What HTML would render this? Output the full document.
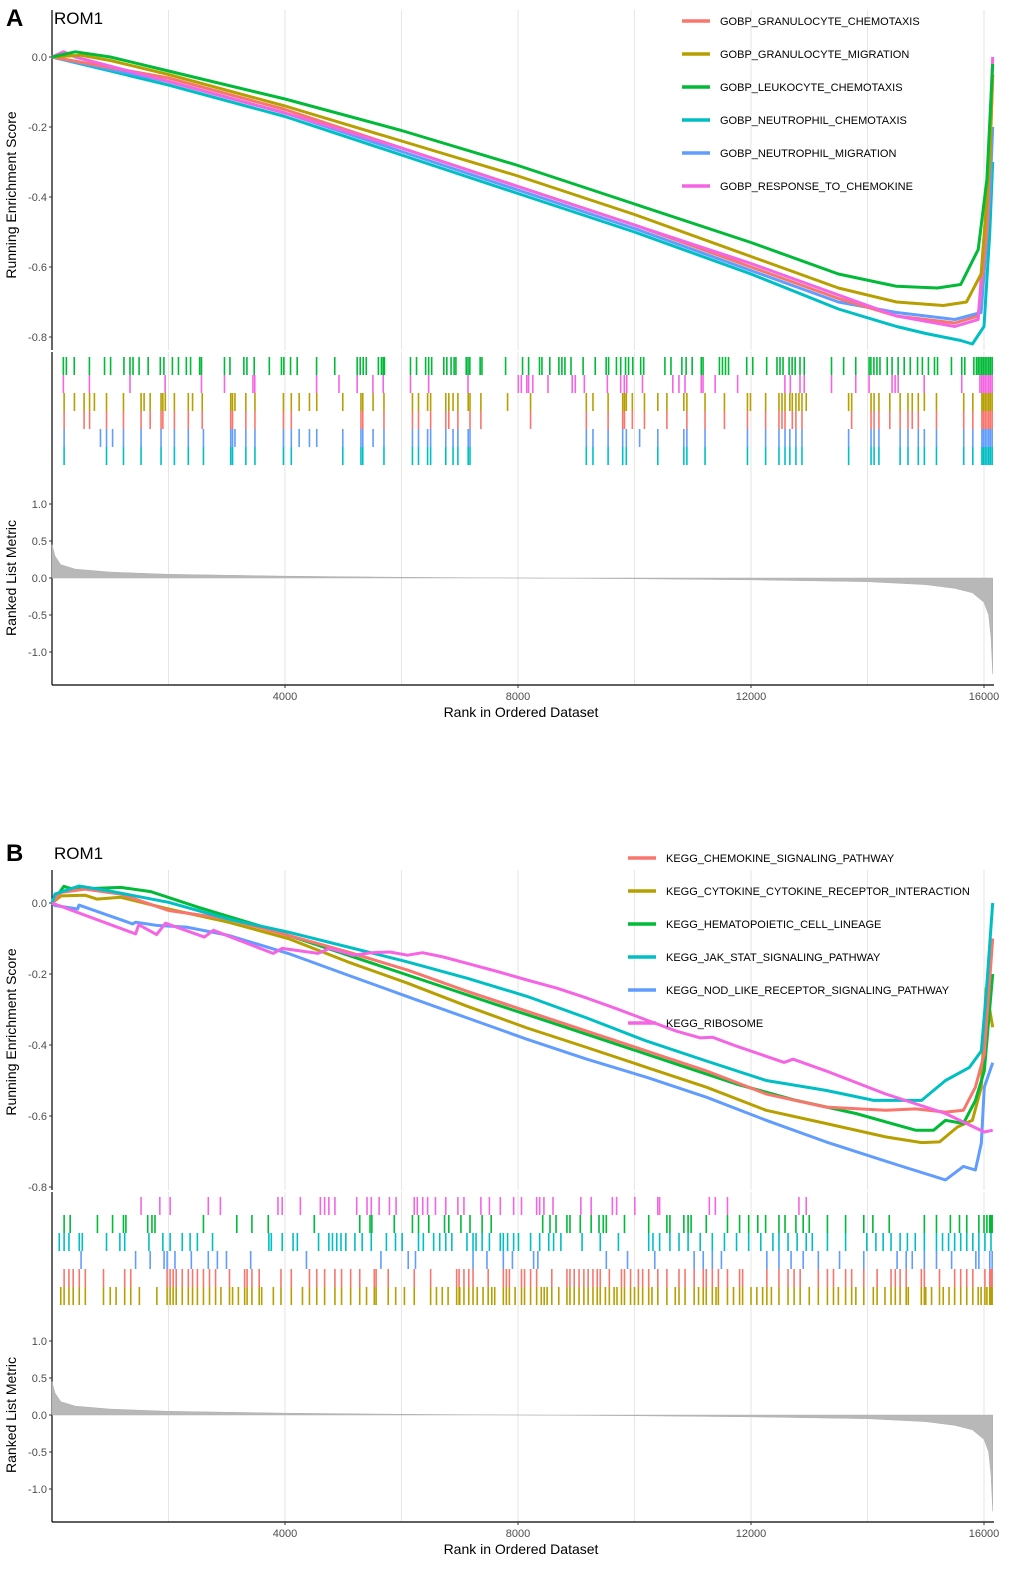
<!DOCTYPE html>
<html><head><meta charset="utf-8">
<style>
body{margin:0;background:#fff;}
svg{display:block;font-family:"Liberation Sans",Arial,sans-serif;}
</style></head>
<body>
<svg id="chart" width="1020" height="1592" xmlns="http://www.w3.org/2000/svg"></svg>
<script>
// ---------- DATA ----------
const rankTicks = [4000, 8000, 12000, 16000];
const gridRanks = [2000, 4000, 6000, 8000, 10000, 12000, 14000, 16000];
const esTicks = [0.0, -0.2, -0.4, -0.6, -0.8];
const metricTicks = [1.0, 0.5, 0.0, -0.5, -1.0];

const namesA = ["GOBP_GRANULOCYTE_CHEMOTAXIS","GOBP_GRANULOCYTE_MIGRATION","GOBP_LEUKOCYTE_CHEMOTAXIS","GOBP_NEUTROPHIL_CHEMOTAXIS","GOBP_NEUTROPHIL_MIGRATION","GOBP_RESPONSE_TO_CHEMOKINE"];
const namesB = ["KEGG_CHEMOKINE_SIGNALING_PATHWAY","KEGG_CYTOKINE_CYTOKINE_RECEPTOR_INTERACTION","KEGG_HEMATOPOIETIC_CELL_LINEAGE","KEGG_JAK_STAT_SIGNALING_PATHWAY","KEGG_NOD_LIKE_RECEPTOR_SIGNALING_PATHWAY","KEGG_RIBOSOME"];
const colors = ["#F8766D","#B79F00","#00BA38","#00BFC4","#619CFF","#F564E3"];

// Running ES curves panel A: [rank, ES]
const esA_red = [[0,0],[2000,-0.06],[4000,-0.15],[6000,-0.26],[8000,-0.37],[10000,-0.48],[12000,-0.6],[13500,-0.69],[14500,-0.74],[15500,-0.76],[15900,-0.74],[16050,-0.5],[16150,-0.05]];
const esA_olive = [[0,0],[500,0.005],[1000,-0.01],[2000,-0.05],[4000,-0.14],[6000,-0.24],[8000,-0.34],[10000,-0.45],[12000,-0.57],[13500,-0.66],[14500,-0.7],[15300,-0.71],[15700,-0.7],[15950,-0.62],[16100,-0.3],[16150,-0.05]];
const esA_green = [[0,0],[400,0.015],[1000,0.0],[2000,-0.04],[4000,-0.12],[6000,-0.21],[8000,-0.31],[10000,-0.42],[12000,-0.53],[13500,-0.62],[14500,-0.655],[15200,-0.66],[15600,-0.65],[15900,-0.55],[16050,-0.35],[16150,-0.02]];
const esA_cyan = [[0,0],[2000,-0.08],[4000,-0.17],[6000,-0.28],[8000,-0.39],[10000,-0.5],[12000,-0.62],[13500,-0.72],[14500,-0.77],[15000,-0.79],[15600,-0.81],[15800,-0.82],[16000,-0.77],[16100,-0.5],[16150,-0.3]];
const esA_blue = [[0,0],[2000,-0.07],[4000,-0.16],[6000,-0.27],[8000,-0.38],[10000,-0.49],[12000,-0.61],[13500,-0.7],[14500,-0.73],[15000,-0.74],[15500,-0.75],[15950,-0.73],[16100,-0.4],[16150,-0.2]];
const esA_pink = [[0,0],[200,0.015],[400,0.0],[2000,-0.07],[4000,-0.16],[6000,-0.26],[8000,-0.37],[10000,-0.48],[12000,-0.59],[13500,-0.68],[14500,-0.74],[15500,-0.77],[15900,-0.75],[16050,-0.4],[16150,0.0]];

// Running ES curves panel B
const esB_red = [[0,0],[154,0.03],[564,0.039],[1180,0.025],[2000,-0.021],[3027,-0.045],[4053,-0.091],[5079,-0.138],[6105,-0.189],[7131,-0.249],[8157,-0.305],[9183,-0.361],[10209,-0.417],[11235,-0.473],[12261,-0.538],[13287,-0.575],[14313,-0.584],[14826,-0.58],[15339,-0.589],[15647,-0.584],[15852,-0.519],[16006,-0.426],[16150,-0.1]];
const esB_olive = [[0,0],[154,0.02],[564,0.022],[770,0.011],[1180,0.016],[2000,-0.017],[3027,-0.054],[4053,-0.1],[5079,-0.166],[6105,-0.226],[7131,-0.291],[8157,-0.352],[9183,-0.407],[10209,-0.463],[11235,-0.519],[12261,-0.584],[13287,-0.621],[14313,-0.659],[14929,-0.675],[15237,-0.673],[15544,-0.631],[15800,-0.612],[15954,-0.519],[16036,-0.24],[16150,-0.35]];
const esB_green = [[0,0],[205,0.047],[359,0.039],[1180,0.044],[1693,0.032],[2514,-0.012],[3540,-0.063],[4566,-0.119],[5592,-0.175],[6618,-0.231],[7644,-0.287],[8670,-0.342],[9696,-0.398],[10722,-0.454],[11748,-0.51],[12774,-0.556],[13800,-0.593],[14826,-0.64],[15134,-0.64],[15339,-0.612],[15647,-0.621],[15852,-0.556],[16006,-0.473],[16150,-0.2]];
const esB_cyan = [[0,0],[51,0.025],[462,0.048],[975,0.034],[2000,0.002],[3027,-0.045],[4053,-0.082],[5079,-0.124],[6105,-0.166],[7131,-0.212],[8157,-0.263],[9183,-0.324],[10209,-0.389],[11235,-0.445],[12261,-0.5],[13287,-0.528],[14108,-0.556],[14929,-0.556],[15339,-0.5],[15749,-0.463],[15954,-0.417],[16036,-0.259],[16150,0.0]];
const esB_blue = [[0,0],[51,-0.007],[441,-0.017],[462,-0.006],[1385,-0.059],[1436,-0.054],[1796,-0.063],[2309,-0.068],[3027,-0.091],[4053,-0.142],[5079,-0.203],[6105,-0.264],[7131,-0.324],[8157,-0.384],[9183,-0.44],[10209,-0.491],[11235,-0.547],[12261,-0.612],[13287,-0.673],[14518,-0.738],[15339,-0.78],[15647,-0.742],[15852,-0.752],[15954,-0.677],[16006,-0.519],[16150,-0.45]];
const esB_pink = [[0,0],[1436,-0.087],[1488,-0.061],[1796,-0.089],[1949,-0.057],[2616,-0.096],[2770,-0.077],[3796,-0.142],[3950,-0.128],[4566,-0.142],[4771,-0.128],[5181,-0.147],[5489,-0.14],[5797,-0.138],[6105,-0.147],[6361,-0.14],[6720,-0.152],[7131,-0.17],[7644,-0.193],[8157,-0.217],[8670,-0.24],[9183,-0.268],[9696,-0.298],[10209,-0.33],[10722,-0.361],[11132,-0.38],[11337,-0.378],[11748,-0.403],[12569,-0.449],[12722,-0.44],[13287,-0.473],[14313,-0.538],[15339,-0.593],[16006,-0.645],[16150,-0.64]];

// Gene-set hit ranks (rug)
const hitsA_green = [195,247,382,642,902,1006,1235,1339,1391,1495,1651,1859,1921,2067,2171,2306,2379,2535,2566,2961,3055,3294,3346,3471,3731,3939,3980,4095,4209,4542,4854,5239,5291,5343,5395,5603,5655,5686,5707,6154,6258,6414,6466,6518,6726,6778,6851,6903,6934,7111,7142,7173,7350,7381,7787,8078,8182,8369,8411,8546,8702,8754,8806,8910,9118,9326,9513,9555,9690,9763,9846,9898,9971,10106,10158,10522,10626,10813,10886,10990,11146,11177,11458,11510,11562,11614,11926,12030,12269,12446,12498,12550,12654,12706,12758,12841,12914,13382,13590,13798,14027,14058,14110,14162,14214,14339,14422,14526,14630,14734,14859,14942,15046,15150,15202,15441,15618,15670,15826,15870,15900,15930,15960,15990,16020,16050,16080,16110,16140];
const hitsA_pink = [195,642,1339,1942,2566,2961,3450,3481,4542,4927,5239,5509,5686,6154,6466,7142,8005,8057,8151,8182,8254,8515,8931,8983,9139,9534,9763,9825,9867,10137,10658,10763,10867,11146,11177,11385,11770,12582,12675,12841,12914,13382,13798,14027,14422,14474,14526,14973,15618,15930,15960,15990,16020,16050,16080,16110,16140];
const hitsA_olive = [208,385,551,645,728,936,1227,1529,1581,1685,1872,1903,1945,2101,2340,2413,2579,3068,3099,3141,3328,3484,3973,4108,4243,4420,4545,4992,5304,5335,5512,5699,6188,6292,6448,6500,6760,6812,6885,6968,7145,7176,7363,7821,8216,9173,9287,9547,9797,9828,9859,9963,10171,10400,10556,10847,10899,11211,11544,11939,11991,12251,12480,12532,12584,12667,12709,12771,12823,12875,12948,13676,13728,14061,14113,14196,14383,14560,14695,14768,14872,14976,15184,15652,15808,15964,15990,16020,16050,16080,16110,16140];
const hitsA_red = [208,551,645,936,1227,1529,1685,1872,1903,2101,2340,2579,3068,3099,3328,3484,3973,4108,5304,5335,5699,6188,6292,6500,6760,6812,6968,7176,7363,8216,9173,9547,9797,9828,9963,10171,10556,10899,11211,11544,11939,12251,12480,12532,12584,12709,12771,12875,13728,14061,14113,14196,14383,14560,14695,14768,14872,15184,15652,15808,15964,15990,16020,16050,16080,16110,16140];
const hitsA_blue = [208,832,936,1040,1227,1529,1872,2101,2340,2600,3068,3099,3141,3328,3484,3973,4108,4243,4420,4545,4992,5304,5335,5512,5699,6188,6292,6448,6500,6760,6885,6968,7145,7176,9173,9287,9547,9797,9859,10088,10400,10847,10899,11211,11939,12251,12480,12584,12667,12771,12875,13676,14061,14113,14196,14560,14695,14872,14976,15184,15652,15808,15964,15990,16020,16050,16080,16110,16140];
const hitsA_cyan = [208,936,1227,1529,1872,2101,2340,2600,3068,3099,3328,3484,3973,4108,4992,5304,5335,5699,6188,6292,6448,6500,6760,6885,6968,7145,7176,9173,9287,9547,9797,9859,10400,10847,10899,11211,11939,12251,12480,12584,12667,12771,12875,13676,14061,14113,14196,14560,14695,14872,14976,15184,15652,15808,15964,15990,16020,16050,16080,16110,16140];

const hitsB_pink = [1529,1851,2028,2683,2891,3879,3952,4264,4607,4680,4753,4857,5231,5408,5481,5616,5793,5907,6219,6271,6365,6448,6583,6760,6968,7072,7363,7509,7696,7925,8060,8320,8372,8445,8601,9079,9256,9620,9693,10005,10400,10431,11284,11388,11596,12823,12948];
const hitsB_green = [208,312,780,1040,1227,1269,1643,1716,1768,2600,3172,3432,3713,4503,5283,5460,5491,5876,6188,6292,6469,6739,6812,7020,7176,7384,7540,8424,8549,8653,8840,8892,9069,9256,9391,9464,9516,9828,10244,10556,10608,10847,10920,10972,11232,11596,11804,11960,12116,12251,12480,12584,12771,12896,13000,13312,13624,13936,14092,14373,14976,15184,15423,15579,15704,15912,16000,16050,16099,16120,16140];
const hitsB_cyan = [125,208,291,468,520,936,1165,1248,1664,1903,2028,2236,2371,2496,2756,3723,3765,3952,4139,4212,4576,4753,4815,4888,4961,5044,5200,5325,5481,5741,5897,6011,6292,6375,6552,6656,6760,6864,7124,7228,7280,7384,7509,7696,7748,7821,7925,8008,8216,8372,8528,8611,8736,9100,9412,9724,10244,10317,10431,10608,10764,10920,11128,11336,11544,11752,11960,12168,12376,12480,12636,12792,12948,13052,13312,13624,13988,14144,14269,14404,14560,14685,14820,14976,15184,15288,15392,15496,15600,15704,15808,15912,16016,16120];
const hitsB_blue = [499,1435,1685,1924,1976,2111,2392,2683,2839,2995,3411,4368,5647,6115,6240,7228,7467,7748,7904,8268,8341,9516,9880,10348,11024,11180,11336,11492,12272,12480,12688,12896,13156,13520,13936,14508,14664,14768,14976,15184,15444,15860,15912,16099,16140];
const hitsB_red = [208,291,364,468,572,884,1248,1352,1976,2028,2080,2132,2236,2340,2413,2496,2600,2704,2808,3047,3307,3349,3432,3557,3931,4108,4420,4545,4680,4857,4971,5127,5283,5533,5564,5772,6219,6500,6947,6989,7072,7155,7228,7488,7748,7800,7852,8060,8112,8216,8320,8580,8840,8892,8965,9048,9131,9204,9287,9360,9412,9568,9776,9828,9932,10067,10140,10244,10400,10556,10764,10868,11024,11180,11232,11336,11440,11596,11804,11856,12272,12480,12636,12740,12844,13156,13312,13416,13624,13728,13936,14165,14404,14477,14560,14664,14924,14976,15236,15496,15600,15704,15808,16016,16099,16120,16140];
const hitsB_oliveExtra = [150,1000,1100,1500,1800,2900,3100,3200,3600,3800,4300,5400,5900,6050,6600,6700,6800,7000,7300,7400,7550,7600,7950,8400,8450,8500,8700,9500,9650,9700,10000,10300,10700,11100,11400,11700,12000,12100,12200,12350,13000,13500,13800,14100,14300,14700,15000,15100,15300,15400,15900,15950,16050];
const hitsB_olive = hitsB_red.concat(hitsB_oliveExtra);

// Ranked list metric [rank, value]
const metricRanks = [0,50,150,400,1000,2000,4000,6000,8000,10000,12000,14000,15000,15500,15800,16000,16080,16120,16150];
const metricVals = [0.45,0.3,0.18,0.12,0.08,0.05,0.025,0.01,0.0,-0.01,-0.025,-0.05,-0.09,-0.14,-0.2,-0.33,-0.5,-0.8,-1.3];

// ---------- DRAWING ----------
const NS = "http://www.w3.org/2000/svg";
const svg = document.getElementById("chart");
function mk(tag, attrs, parent){
  const e = document.createElementNS(NS, tag);
  for (const k in attrs) e.setAttribute(k, attrs[k]);
  (parent||svg).appendChild(e);
  return e;
}
const X0 = 52, XS = 0.05825;
const xScale = r => X0 + r * XS;

function panel(cfg){
  const g = mk("g", {});
  
  
  const esY = v => cfg.es0 - v * cfg.esK;
  const mY = v => cfg.m0 - v * 74;

  // grid lines
  gridRanks.forEach(r => {
    [[cfg.top, cfg.topBot],[cfg.rugTop, cfg.rugBot],[cfg.botTop, cfg.axisY]].forEach(s => {
      const l = mk("line", {x1:xScale(r), x2:xScale(r), y1:s[0], y2:s[1], stroke:"#e6e6e6", "stroke-width":1}, g);
      
      
    });
  });

  // panel letter & title
  const letter = mk("text", {x:cfg.letterX, y:cfg.letterY, "font-size":24, "font-weight":"bold", fill:"#000"}, g);
  letter.textContent = cfg.letter;
  
  
  const title = mk("text", {x:54, y:cfg.letterY - 2, "font-size":17, fill:"#000"}, g);
  title.textContent = "ROM1";
  
  

  // axes lines
  [[cfg.top, cfg.topBot],[cfg.rugTop, cfg.rugBot],[cfg.botTop, cfg.axisY]].forEach(s => {
    const l = mk("line", {x1:X0, x2:X0, y1:s[0], y2:s[1], stroke:"#000", "stroke-width":1.2}, g);
    
    
  });
  const xl = mk("line", {x1:X0, x2:994, y1:cfg.axisY, y2:cfg.axisY, stroke:"#000", "stroke-width":1.2}, g);
  
  

  // ES y ticks
  esTicks.forEach(v => {
    const y = esY(v);
    mk("line", {x1:X0-3, x2:X0, y1:y, y2:y, stroke:"#333"}, g);
    const t = mk("text", {x:X0-5, y:y+4, "font-size":11, "text-anchor":"end", fill:"#4d4d4d"}, g);
    t.textContent = v.toFixed(1);
    
    
  });
  metricTicks.forEach(v => {
    const y = mY(v);
    mk("line", {x1:X0-3, x2:X0, y1:y, y2:y, stroke:"#333"}, g);
    const t = mk("text", {x:X0-5, y:y+4, "font-size":11, "text-anchor":"end", fill:"#4d4d4d"}, g);
    t.textContent = v.toFixed(1);
    
    
  });
  rankTicks.forEach(r => {
    const x = xScale(r);
    mk("line", {x1:x, x2:x, y1:cfg.axisY, y2:cfg.axisY+3, stroke:"#333"}, g);
    const t = mk("text", {x:x, y:cfg.axisY+15, "font-size":11, "text-anchor":"middle", fill:"#4d4d4d"}, g);
    t.textContent = String(r);
    
    
  });

  // axis titles
  const yt = mk("text", {x:0, y:0, "font-size":14, "text-anchor":"middle", fill:"#000", transform:`translate(16,${cfg.esTitleY}) rotate(-90)`}, g);
  yt.textContent = "Running Enrichment Score";
  
  
  const yt2 = mk("text", {x:0, y:0, "font-size":14, "text-anchor":"middle", fill:"#000", transform:`translate(16,${mY(0)}) rotate(-90)`}, g);
  yt2.textContent = "Ranked List Metric";
  
  
  const xt = mk("text", {x:521, y:cfg.axisY+32, "font-size":14, "text-anchor":"middle", fill:"#000"}, g);
  xt.textContent = "Rank in Ordered Dataset";
  
  

  // metric area
  let d = `M${xScale(metricRanks[0])},${mY(0)}`;
  metricRanks.forEach((r,i) => { d += ` L${xScale(r)},${mY(metricVals[i])}`; });
  d += ` L${xScale(metricRanks[metricRanks.length-1])},${mY(0)} Z`;
  const area = mk("path", {d:d, fill:"#b8b8b8", stroke:"#b0b0b0", "stroke-width":0.5}, g);
  
  

  // rug
  cfg.rugs.forEach((rg, i) => {
    const y1 = cfg.rugTop + 5 + i * 18, y2 = y1 + 18;
    rg.hits.forEach(r => {
      const l = mk("line", {x1:xScale(r), x2:xScale(r), y1:y1, y2:y2, stroke:rg.color, "stroke-width":1.6}, g);
      
      
    });
  });

  // curves
  cfg.curves.forEach(c => {
    const pts = c.data.map(p => `${xScale(p[0]).toFixed(1)},${esY(p[1]).toFixed(1)}`).join(" ");
    const pl = mk("polyline", {points:pts, fill:"none", stroke:c.color, "stroke-width":3, "stroke-linejoin":"round"}, g);
    
    
  });

  // legend
  cfg.names.forEach((n, i) => {
    const y = cfg.legY + i * 33;
    const sw = mk("line", {x1:cfg.legX, x2:cfg.legX+28, y1:y, y2:y, stroke:colors[i], "stroke-width":3.5}, g);
    
    
    const t = mk("text", {x:cfg.legX+38, y:y+4, "font-size":11, fill:"#000"}, g);
    t.textContent = n;
    
    
  });
}

panel({id:"a", letter:"A", letterX:6, letterY:26, top:10, topBot:350, es0:57, esK:350,
  rugTop:352, rugBot:470, botTop:470, axisY:685, m0:578, esTitleY:195,
  legX:682, legY:21, names:namesA,
  rugs:[{hits:hitsA_green,color:colors[2]},{hits:hitsA_pink,color:colors[5]},{hits:hitsA_olive,color:colors[1]},{hits:hitsA_red,color:colors[0]},{hits:hitsA_blue,color:colors[4]},{hits:hitsA_cyan,color:colors[3]}],
  curves:[{data:esA_cyan,color:colors[3]},{data:esA_blue,color:colors[4]},{data:esA_red,color:colors[0]},{data:esA_pink,color:colors[5]},{data:esA_olive,color:colors[1]},{data:esA_green,color:colors[2]}]});

panel({id:"b", letter:"B", letterX:6, letterY:861, top:870, topBot:1190, es0:903, esK:355,
  rugTop:1192, rugBot:1308, botTop:1308, axisY:1522, m0:1415, esTitleY:1032,
  legX:628, legY:858, names:namesB,
  rugs:[{hits:hitsB_pink,color:colors[5]},{hits:hitsB_green,color:colors[2]},{hits:hitsB_cyan,color:colors[3]},{hits:hitsB_blue,color:colors[4]},{hits:hitsB_red,color:colors[0]},{hits:hitsB_olive,color:colors[1]}],
  curves:[{data:esB_blue,color:colors[4]},{data:esB_olive,color:colors[1]},{data:esB_green,color:colors[2]},{data:esB_red,color:colors[0]},{data:esB_cyan,color:colors[3]},{data:esB_pink,color:colors[5]}]});
</script>
</body></html>
